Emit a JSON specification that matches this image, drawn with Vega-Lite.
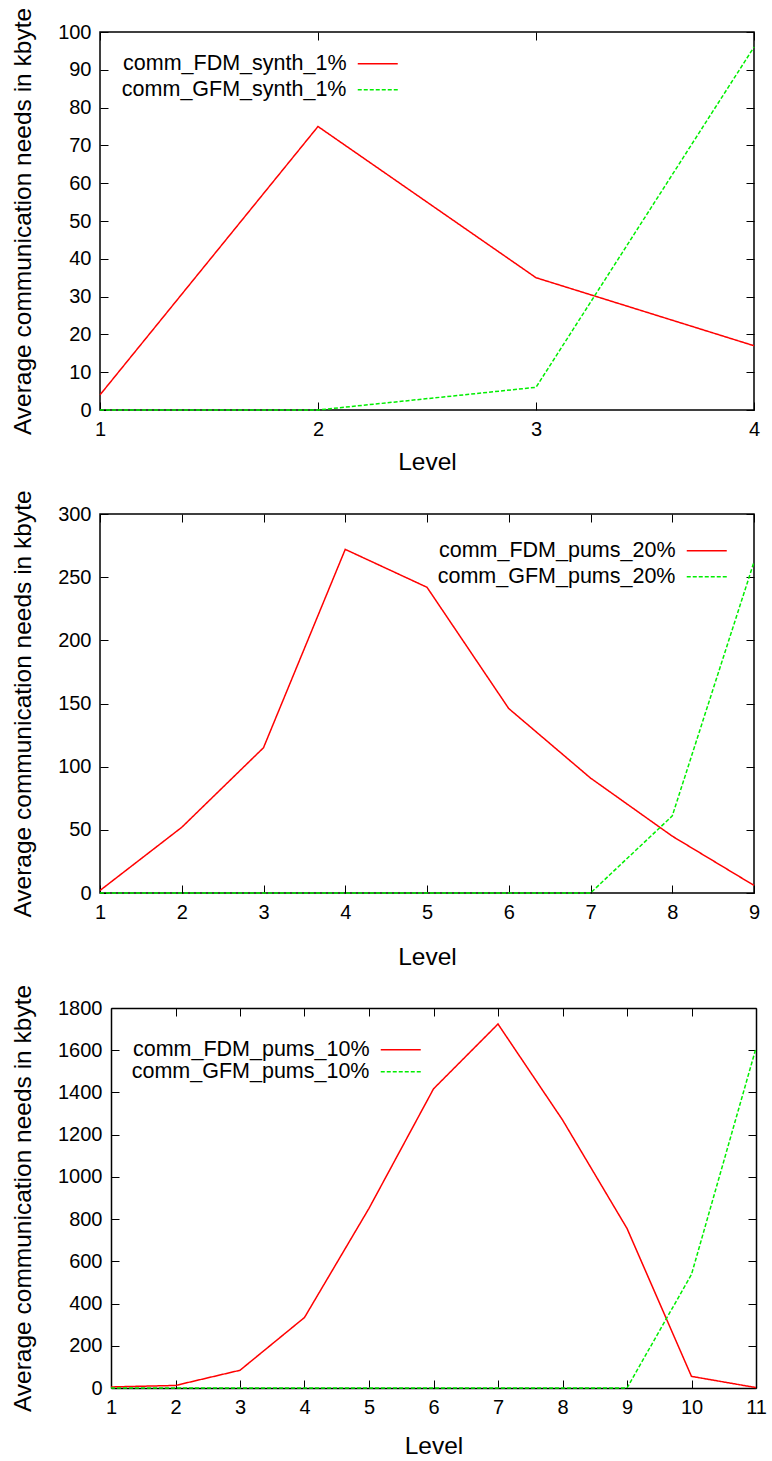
{
  "$schema": "https://vega.github.io/schema/vega-lite/v6.json",
  "background": "white",
  "padding": {"left": 9, "top": 6, "right": 5, "bottom": 0},
  "spacing": 14,
  "columns": 1,
  "align": "none",
  "datasets": {
    "p1": [
      {"level": 1, "value": 4, "series": "comm_FDM_synth_1%"},
      {"level": 2, "value": 75, "series": "comm_FDM_synth_1%"},
      {"level": 3, "value": 35, "series": "comm_FDM_synth_1%"},
      {"level": 4, "value": 17, "series": "comm_FDM_synth_1%"},
      {"level": 1, "value": 0, "series": "comm_GFM_synth_1%"},
      {"level": 2, "value": 0, "series": "comm_GFM_synth_1%"},
      {"level": 3, "value": 6, "series": "comm_GFM_synth_1%"},
      {"level": 4, "value": 96, "series": "comm_GFM_synth_1%"}
    ],
    "p2": [
      {"level": 1, "value": 2, "series": "comm_FDM_pums_20%"},
      {"level": 2, "value": 52, "series": "comm_FDM_pums_20%"},
      {"level": 3, "value": 115, "series": "comm_FDM_pums_20%"},
      {"level": 4, "value": 272, "series": "comm_FDM_pums_20%"},
      {"level": 5, "value": 242, "series": "comm_FDM_pums_20%"},
      {"level": 6, "value": 146, "series": "comm_FDM_pums_20%"},
      {"level": 7, "value": 91, "series": "comm_FDM_pums_20%"},
      {"level": 8, "value": 45, "series": "comm_FDM_pums_20%"},
      {"level": 9, "value": 6, "series": "comm_FDM_pums_20%"},
      {"level": 1, "value": 0, "series": "comm_GFM_pums_20%"},
      {"level": 2, "value": 0, "series": "comm_GFM_pums_20%"},
      {"level": 3, "value": 0, "series": "comm_GFM_pums_20%"},
      {"level": 4, "value": 0, "series": "comm_GFM_pums_20%"},
      {"level": 5, "value": 0, "series": "comm_GFM_pums_20%"},
      {"level": 6, "value": 0, "series": "comm_GFM_pums_20%"},
      {"level": 7, "value": 0, "series": "comm_GFM_pums_20%"},
      {"level": 8, "value": 61, "series": "comm_GFM_pums_20%"},
      {"level": 9, "value": 262, "series": "comm_GFM_pums_20%"}
    ],
    "p3": [
      {"level": 1, "value": 5, "series": "comm_FDM_pums_10%"},
      {"level": 2, "value": 12, "series": "comm_FDM_pums_10%"},
      {"level": 3, "value": 84, "series": "comm_FDM_pums_10%"},
      {"level": 4, "value": 334, "series": "comm_FDM_pums_10%"},
      {"level": 5, "value": 851, "series": "comm_FDM_pums_10%"},
      {"level": 6, "value": 1417, "series": "comm_FDM_pums_10%"},
      {"level": 7, "value": 1724, "series": "comm_FDM_pums_10%"},
      {"level": 8, "value": 1270, "series": "comm_FDM_pums_10%"},
      {"level": 9, "value": 756, "series": "comm_FDM_pums_10%"},
      {"level": 10, "value": 55, "series": "comm_FDM_pums_10%"},
      {"level": 11, "value": 2, "series": "comm_FDM_pums_10%"},
      {"level": 1, "value": 0, "series": "comm_GFM_pums_10%"},
      {"level": 2, "value": 0, "series": "comm_GFM_pums_10%"},
      {"level": 3, "value": 0, "series": "comm_GFM_pums_10%"},
      {"level": 4, "value": 0, "series": "comm_GFM_pums_10%"},
      {"level": 5, "value": 0, "series": "comm_GFM_pums_10%"},
      {"level": 6, "value": 0, "series": "comm_GFM_pums_10%"},
      {"level": 7, "value": 0, "series": "comm_GFM_pums_10%"},
      {"level": 8, "value": 0, "series": "comm_GFM_pums_10%"},
      {"level": 9, "value": 0, "series": "comm_GFM_pums_10%"},
      {"level": 10, "value": 538, "series": "comm_GFM_pums_10%"},
      {"level": 11, "value": 1610, "series": "comm_GFM_pums_10%"}
    ]
  },
  "config": {
    "font": "Liberation Sans",
    "view": {"stroke": "#000000", "strokeWidth": 1.5},
    "axis": {
      "grid": false,
      "domain": false,
      "domainColor": "#000000",
      "domainWidth": 1.5,
      "tickColor": "#000000",
      "tickSize": -8,
      "tickWidth": 1,
      "labelFlush": false,
      "labelOverlap": false,
      "labelFont": "Liberation Sans",
      "labelFontSize": 20,
      "labelColor": "#000000",
      "labelPadding": 17,
      "titleFont": "Liberation Sans",
      "titleFontSize": 24.5,
      "titleFontWeight": "normal",
      "titleColor": "#000000"
    },
    "axisX": {"titlePadding": 11},
    "axisY": {"titlePadding": 22},
    "legend": {
      "title": null,
      "symbolType": "M-4,0H4",
      "symbolSize": 100,
      "symbolStrokeWidth": 1.5,
      "symbolFillColor": "transparent",
      "labelFont": "Liberation Sans",
      "labelFontSize": 21.5,
      "labelColor": "#000000",
      "labelAlign": "right",
      "labelOffset": -42,
      "labelLimit": 400,
      "rowPadding": 3,
      "padding": 0
    }
  },
  "resolve": {
    "scale": {"x": "independent", "y": "independent", "color": "independent", "strokeDash": "independent"},
    "legend": {"color": "independent", "strokeDash": "independent"}
  },
  "concat": [
    {
      "data": {"name": "p1"},
      "width": 654,
      "height": 378,
      "resolve": {"axis": {"x": "independent", "y": "independent"}},
      "layer": [
        {
          "mark": {"type": "line", "strokeWidth": 1.5},
          "encoding": {
            "x": {"field": "level", "type": "quantitative", "scale": {"domain": [1, 4], "nice": false, "zero": false},
                  "axis": {"orient": "bottom", "values": [1, 2, 3, 4], "title": "Level", "format": "d", "titlePadding": 11}},
            "y": {"field": "value", "type": "quantitative", "scale": {"domain": [0, 100], "nice": false},
                  "axis": {"orient": "left", "values": [0, 10, 20, 30, 40, 50, 60, 70, 80, 90, 100], "title": "Average communication needs in kbyte"}},
            "color": {"field": "series", "type": "nominal",
                      "scale": {"domain": ["comm_FDM_synth_1%", "comm_GFM_synth_1%"], "range": ["#ff0000", "#00ee00"]},
                      "legend": {"orient": "none", "legendX": 267, "legendY": 21}},
            "strokeDash": {"field": "series", "type": "nominal",
                      "scale": {"domain": ["comm_FDM_synth_1%", "comm_GFM_synth_1%"], "range": [[1, 0], [4, 2]]},
                      "legend": {"orient": "none", "legendX": 267, "legendY": 21}}
          }
        },
        {
          "mark": {"type": "line", "opacity": 0},
          "encoding": {
            "x": {"field": "level", "type": "quantitative", "scale": {"domain": [1, 4], "nice": false, "zero": false},
                  "axis": {"orient": "top", "values": [1, 2, 3, 4], "labels": false, "title": null}},
            "y": {"field": "value", "type": "quantitative", "scale": {"domain": [0, 100], "nice": false},
                  "axis": {"orient": "right", "values": [0, 10, 20, 30, 40, 50, 60, 70, 80, 90, 100], "labels": false, "title": null}}
          }
        }
      ]
    },
    {
      "data": {"name": "p2"},
      "width": 654,
      "height": 379,
      "resolve": {"axis": {"x": "independent", "y": "independent"}},
      "layer": [
        {
          "mark": {"type": "line", "strokeWidth": 1.5},
          "encoding": {
            "x": {"field": "level", "type": "quantitative", "scale": {"domain": [1, 9], "nice": false, "zero": false},
                  "axis": {"orient": "bottom", "values": [1, 2, 3, 4, 5, 6, 7, 8, 9], "title": "Level", "format": "d", "titlePadding": 23}},
            "y": {"field": "value", "type": "quantitative", "scale": {"domain": [0, 300], "nice": false},
                  "axis": {"orient": "left", "values": [0, 50, 100, 150, 200, 250, 300], "title": "Average communication needs in kbyte"}},
            "color": {"field": "series", "type": "nominal",
                      "scale": {"domain": ["comm_FDM_pums_20%", "comm_GFM_pums_20%"], "range": ["#ff0000", "#00ee00"]},
                      "legend": {"orient": "none", "legendX": 596, "legendY": 26}},
            "strokeDash": {"field": "series", "type": "nominal",
                      "scale": {"domain": ["comm_FDM_pums_20%", "comm_GFM_pums_20%"], "range": [[1, 0], [4, 2]]},
                      "legend": {"orient": "none", "legendX": 596, "legendY": 26}}
          }
        },
        {
          "mark": {"type": "line", "opacity": 0},
          "encoding": {
            "x": {"field": "level", "type": "quantitative", "scale": {"domain": [1, 9], "nice": false, "zero": false},
                  "axis": {"orient": "top", "values": [1, 2, 3, 4, 5, 6, 7, 8, 9], "labels": false, "title": null}},
            "y": {"field": "value", "type": "quantitative", "scale": {"domain": [0, 300], "nice": false},
                  "axis": {"orient": "right", "values": [0, 50, 100, 150, 200, 250, 300], "labels": false, "title": null}}
          }
        }
      ]
    },
    {
      "data": {"name": "p3"},
      "width": 656,
      "height": 380,
      "view": {"stroke": null},
      "resolve": {"axis": {"x": "independent", "y": "independent"}},
      "layer": [
        {
          "mark": {"type": "line", "strokeWidth": 1.5},
          "encoding": {
            "x": {"field": "level", "type": "quantitative", "scale": {"domain": [1, 11], "range": [11, 656], "nice": false, "zero": false},
                  "axis": {"orient": "bottom", "domain": true, "values": [1, 2, 3, 4, 5, 6, 7, 8, 9, 10, 11], "title": "Level", "format": "d", "titlePadding": 17}},
            "y": {"field": "value", "type": "quantitative", "scale": {"domain": [0, 1800], "nice": false},
                  "axis": {"orient": "left", "offset": -11, "domain": true, "values": [0, 200, 400, 600, 800, 1000, 1200, 1400, 1600, 1800], "title": "Average communication needs in kbyte", "format": "d"}},
            "color": {"field": "series", "type": "nominal",
                      "scale": {"domain": ["comm_FDM_pums_10%", "comm_GFM_pums_10%"], "range": ["#ff0000", "#00ee00"]},
                      "legend": {"orient": "none", "legendX": 290, "legendY": 31, "rowPadding": -3}},
            "strokeDash": {"field": "series", "type": "nominal",
                      "scale": {"domain": ["comm_FDM_pums_10%", "comm_GFM_pums_10%"], "range": [[1, 0], [4, 2]]},
                      "legend": {"orient": "none", "legendX": 290, "legendY": 31, "rowPadding": -3}}
          }
        },
        {
          "mark": {"type": "line", "opacity": 0},
          "encoding": {
            "x": {"field": "level", "type": "quantitative", "scale": {"domain": [1, 11], "range": [11, 656], "nice": false, "zero": false},
                  "axis": {"orient": "top", "domain": true, "values": [1, 2, 3, 4, 5, 6, 7, 8, 9, 10, 11], "labels": false, "title": null}},
            "y": {"field": "value", "type": "quantitative", "scale": {"domain": [0, 1800], "nice": false},
                  "axis": {"orient": "right", "domain": true, "values": [0, 200, 400, 600, 800, 1000, 1200, 1400, 1600, 1800], "labels": false, "title": null}}
          }
        }
      ]
    }
  ]
}
